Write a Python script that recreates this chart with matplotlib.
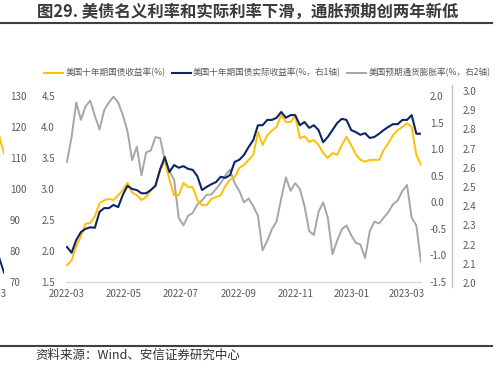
import pandas as pd
import matplotlib
matplotlib.use("Agg")
import matplotlib.pyplot as plt
import matplotlib.dates as mdates
from matplotlib.lines import Line2D

plt.rcParams['font.family'] = ['Noto Sans CJK SC', 'DejaVu Sans']
plt.rcParams['axes.unicode_minus'] = False

dates = pd.date_range("2022-03-01", periods=77, freq="5D")

nominal = [1.77, 1.85, 2.08, 2.24, 2.44, 2.45, 2.56, 2.77, 2.82, 2.84,
           2.82, 2.90, 2.98, 3.10, 2.94, 2.90, 2.82, 2.87, 2.98, 3.06,
           3.30, 3.45, 3.15, 2.90, 2.90, 3.10, 3.03, 3.03, 2.82, 2.74,
           2.74, 2.84, 2.87, 2.90, 3.05, 3.15, 3.19, 3.34, 3.39, 3.47,
           3.55, 3.92, 3.71, 3.87, 3.94, 4.00, 4.19, 4.08, 4.08, 4.18,
           3.82, 3.85, 3.76, 3.79, 3.71, 3.58, 3.50, 3.58, 3.55, 3.71,
           3.84, 3.71, 3.56, 3.47, 3.44, 3.47, 3.47, 3.47, 3.63, 3.74,
           3.87, 3.95, 4.00, 4.06, 4.00, 3.55, 3.39]

real = [-0.84, -0.95, -0.71, -0.56, -0.50, -0.47, -0.48, -0.18, -0.11, -0.11,
        -0.05, -0.09, 0.14, 0.31, 0.25, 0.23, 0.17, 0.17, 0.23, 0.31,
        0.62, 0.85, 0.57, 0.70, 0.65, 0.68, 0.63, 0.61, 0.49, 0.23,
        0.29, 0.34, 0.38, 0.48, 0.46, 0.51, 0.76, 0.80, 0.89, 1.04,
        1.17, 1.45, 1.45, 1.55, 1.55, 1.59, 1.70, 1.59, 1.64, 1.64,
        1.45, 1.51, 1.40, 1.45, 1.36, 1.13, 1.23, 1.36, 1.49, 1.57,
        1.55, 1.36, 1.32, 1.27, 1.30, 1.21, 1.23, 1.29, 1.36, 1.42,
        1.47, 1.47, 1.55, 1.55, 1.64, 1.29, 1.29]

breakeven = [2.63, 2.76, 2.94, 2.85, 2.92, 2.95, 2.87, 2.80, 2.90, 2.94,
             2.97, 2.94, 2.875, 2.79, 2.64, 2.71, 2.56, 2.68, 2.69, 2.76,
             2.755, 2.64, 2.58, 2.54, 2.34, 2.30, 2.35, 2.365, 2.41, 2.43,
             2.46, 2.46, 2.49, 2.52, 2.56, 2.59, 2.52, 2.48, 2.42, 2.44,
             2.40, 2.35, 2.17, 2.22, 2.28, 2.32, 2.44, 2.55, 2.48, 2.52,
             2.49, 2.40, 2.27, 2.25, 2.37, 2.42, 2.34, 2.15, 2.22, 2.28,
             2.30, 2.25, 2.21, 2.20, 2.13, 2.27, 2.32, 2.31, 2.34, 2.37,
             2.41, 2.43, 2.48, 2.51, 2.34, 2.30, 2.11]

labels = ["美国十年期国债收益率(%)",
          "美国十年期国债实际收益率(%，右1轴)",
          "美国预期通货膨胀率(%，右2轴)"]

# tail of the neighbouring chart that is cut off on the left
prev_x = [0, 1]
prev_yellow = [118.5, 111.5]
prev_navy = [79.0, 73.0]

YELLOW = "#FFC000"
NAVY = "#0B2565"
GRAY = "#A6A6A6"
TXT = "#595959"

W, H = 502, 365
fig = plt.figure(figsize=(W / 100, H / 100), dpi=100)


def fx(px):
    return px / W


def fy(py):
    return 1 - py / H


xlim = (pd.Timestamp("2022-02-28"), pd.Timestamp("2023-03-16"))

# right axis 2 (gray, inflation expectation)
ax3 = fig.add_axes([fx(66), fy(287), (421 - 66) / W, (287 - 85) / H])
ax3.patch.set_visible(False)
lg, = ax3.plot(dates, breakeven, color=GRAY, lw=1.4)
ax3.set_xlim(*xlim)
ax3.set_ylim(2.0 - 4 / 192, 3.0 + 6 / 192)
ax3.set_yticks([2.0 + 0.1 * k for k in range(11)])
ax3.yaxis.set_major_formatter(plt.FormatStrFormatter('%.1f'))
ax3.yaxis.tick_right()
ax3.set_xticks([])
for s in ['top', 'left', 'bottom']:
    ax3.spines[s].set_visible(False)
ax3.spines['right'].set_position(('outward', 22.3))
ax3.spines['right'].set_color('#BFBFBF')
ax3.spines['right'].set_linewidth(0.9)
ax3.tick_params(axis='y', length=0, pad=8, labelsize=7, labelcolor=TXT)

# main axis (nominal yield)
ax = fig.add_axes([fx(66), fy(282), (421 - 66) / W, (282 - 96) / H])
ax.patch.set_visible(False)
ly, = ax.plot(dates, nominal, color=YELLOW, lw=1.4)
ax.set_xlim(*xlim)
ax.set_ylim(1.5, 4.5)
ax.set_yticks([1.5, 2.0, 2.5, 3.0, 3.5, 4.0, 4.5])
ax.yaxis.set_major_formatter(plt.FormatStrFormatter('%.1f'))
ax.set_xticks(pd.date_range("2022-03-01", "2023-03-01", freq="2MS"))
ax.xaxis.set_major_formatter(mdates.DateFormatter('%Y-%m'))
for s in ['top', 'left', 'right']:
    ax.spines[s].set_visible(False)
ax.spines['bottom'].set_color('#D9D9D9')
ax.spines['bottom'].set_linewidth(0.9)
ax.tick_params(axis='y', length=0, pad=8, labelsize=7, labelcolor=TXT)
ax.tick_params(axis='x', length=0, pad=5, labelsize=7, labelcolor=TXT)

# right axis 1 (real yield)
ax2 = ax.twinx()
ax2.patch.set_visible(False)
ln, = ax2.plot(dates, real, color=NAVY, lw=1.5)
ax2.set_ylim(-1.5, 2.0)
ax2.set_yticks([-1.5, -1.0, -0.5, 0.0, 0.5, 1.0, 1.5, 2.0])
ax2.yaxis.set_major_formatter(plt.FormatStrFormatter('%.1f'))
for s in ax2.spines.values():
    s.set_visible(False)
ax2.tick_params(axis='y', length=0, pad=6.5, labelsize=7, labelcolor=TXT)

# cut-off neighbour chart on the left edge
ax0 = fig.add_axes([fx(-2), fy(282), 6 / W, 186 / H])
ax0.patch.set_visible(False)
ax0.plot(prev_x, prev_yellow, color=YELLOW, lw=1.4)
ax0.plot(prev_x, prev_navy, color=NAVY, lw=1.4)
ax0.set_xlim(0, 1)
ax0.set_ylim(70, 130)
ax0.set_yticks(range(70, 131, 10))
ax0.yaxis.tick_right()
ax0.set_xticks([])
for s in ax0.spines.values():
    s.set_visible(False)
ax0.tick_params(axis='y', length=0, pad=4.3, labelsize=7, labelcolor=TXT)
fig.text(fx(7), fy(294), "2023-03", ha='right', va='center', fontsize=7, color=TXT)

fig.legend([ly, ln, lg], labels, loc='center left',
           bbox_to_anchor=(fx(44), fy(73)), ncol=3, frameon=False,
           fontsize=6.2, handlelength=2.2, handletextpad=0.3,
           columnspacing=0.7, borderpad=0, borderaxespad=0,
           labelcolor=TXT)

# title and rules
fig.text(fx(37), fy(12), "图29. 美债名义利率和实际利率下滑，通胀预期创两年新低",
         ha='left', va='center', fontsize=11.8, fontweight='bold', color='#3A3A3A')
for y in (22.5, 346):
    fig.add_artist(Line2D([0, fx(32)], [fy(y), fy(y)], lw=1.5, color='#404040'))
    fig.add_artist(Line2D([fx(34), fx(492)], [fy(y), fy(y)], lw=1.5, color='#404040'))
fig.text(fx(35), fy(355), "资料来源：Wind、安信证券研究中心",
         ha='left', va='center', fontsize=9, color='#333333')

fig.savefig("out.png", dpi=100)
